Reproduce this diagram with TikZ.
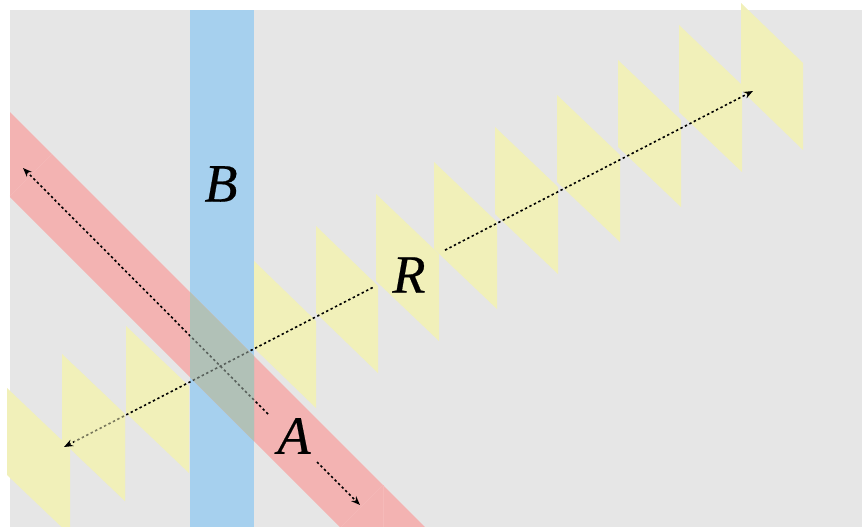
\documentclass[tikz,border=0pt]{standalone}
\usepackage{fontspec}
\setmainfont{Liberation Serif}
\newfontfamily\lblfont[ItalicFeatures={FakeBold=0.4}]{Liberation Serif}
\usetikzlibrary{arrows.meta,calc}
\definecolor{bgC}{HTML}{E6E6E6}
\definecolor{blueC}{HTML}{A6D0EE}
\definecolor{pinkC}{HTML}{F3B3B2}
\definecolor{seamC}{HTML}{F5BAB9}
\definecolor{yelC}{HTML}{F1F0B9}
\definecolor{ovC}{HTML}{B1C1B7}
\tikzset{
  wave/.style={fill=yelC},
  dotline/.style={black, line width=1.6pt, dash pattern=on 2.4pt off 2.6pt},
  tipend/.style={-{Stealth[length=9pt,width=7pt]}},
  lbl/.style={font=\fontsize{54}{54}\selectfont\lblfont\itshape, inner sep=0pt}
}
\newcommand{\wavepoly}[3]{(#1,-#2) -- (#3,-#2-60) -- (#3,-#2-147) -- (#1,-#2-87) -- cycle}
\begin{document}
\begin{tikzpicture}[x=1pt,y=1pt]
\useasboundingbox (0,0) rectangle (862,-527);
% background
\fill[bgC] (10,-10) rectangle (862,-527);
% yellow wave fronts
\fill[wave] \wavepoly{7}{388}{70};
\fill[wave] \wavepoly{62}{354}{125};
\fill[wave] \wavepoly{126}{326}{189};
\fill[wave] \wavepoly{254}{261}{316};
\fill[wave] \wavepoly{316}{226}{378};
\fill[wave] \wavepoly{376}{194}{439};
\fill[wave] \wavepoly{434}{162}{497};
\fill[wave] \wavepoly{495}{127}{558};
\fill[wave] \wavepoly{557}{95}{620};
\fill[wave] \wavepoly{618}{60}{681};
\fill[wave] \wavepoly{679}{25}{742};
\fill[wave] \wavepoly{741}{3}{803};
% blue band B
\fill[blueC] (190,-10) rectangle (254,-527);
% red band A
\fill[pinkC] (10,-112) -- (425,-527) -- (340,-527) -- (10,-197) -- cycle;
% overlap
\fill[ovC] (190,-292) -- (254,-356) -- (254,-441) -- (190,-377) -- cycle;
% faint seams in red band
\draw[seamC, line width=0.4pt] (52,-154) -- (10,-196);
\draw[seamC, line width=0.4pt] (383,-485) -- (341,-527);
\draw[seamC, line width=0.4pt] (383,-485) -- (383,-527);
% arrow coordinates
\coordinate (Ra) at (753,-91);
\coordinate (Rb) at (64,-447);
\coordinate (R1) at ($(Rb)!0.553!(Ra)$);
\coordinate (R2) at ($(Rb)!0.448!(Ra)$);
\coordinate (Aa) at (23,-168);
\coordinate (Ab) at (360,-505);
\coordinate (A1) at (317,-462);
\coordinate (A2) at (268,-414);
\draw[dotline, tipend] (R1) -- (Ra);
\draw[dotline, tipend] (R2) -- (Rb);
\draw[dotline, tipend] (A2) -- (Aa);
\draw[dotline, tipend] (A1) -- (Ab);
% tints over the dotted lines
\begin{scope}
  \clip (74,-300) rectangle (140,-520);
  \fill[yelC, opacity=0.5] \wavepoly{62}{354}{125};
\end{scope}
\fill[ovC, opacity=0.5] (190,-292) -- (254,-356) -- (254,-441) -- (190,-377) -- cycle;
% labels
\node[lbl] (B) at (221,-184) {B};
\node[lbl] (R) at (409,-275) {R};
\node[lbl] (A) at (294,-436) {A};
\end{tikzpicture}
\end{document}
